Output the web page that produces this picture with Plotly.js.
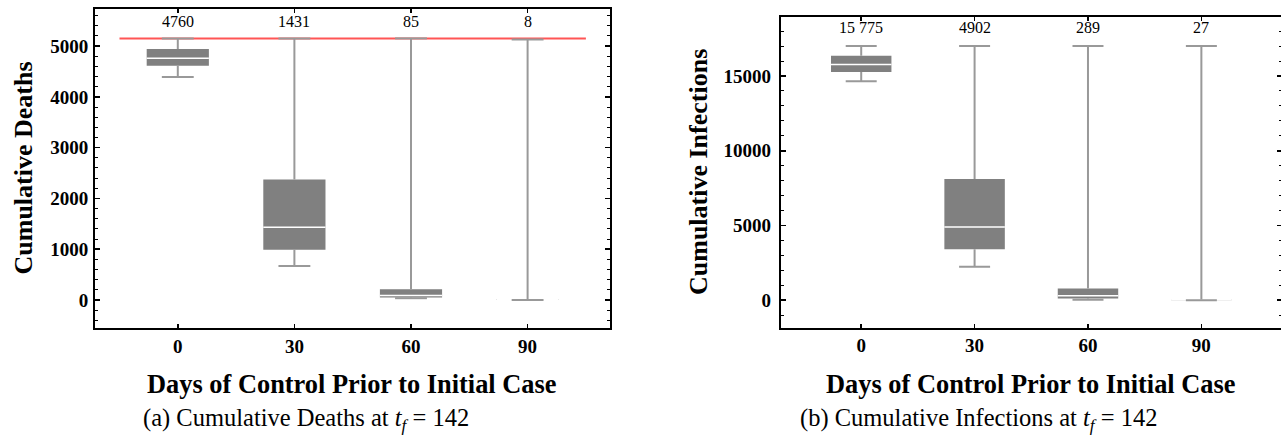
<!DOCTYPE html>
<html>
<head>
<meta charset="utf-8">
<script src="https://cdn.plot.ly/plotly-3.0.1.min.js"></script>
<style>
html,body{margin:0;padding:0;overflow:hidden;background:#fff;}
#chart{width:1284px;height:436px;}
</style>
</head>
<body>
<div id="chart"></div>
<script>
// ---------- data ----------
var days = [0, 30, 60, 90];
var dayLabels = ['0', '30', '60', '90'];

// (a) Cumulative deaths
var deathsLower  = [4393, 666, 34, 0];
var deathsQ1     = [4611, 988, 50, 0];
var deathsMedian = [4760, 1431, 85, 8];
var deathsQ3     = [4941, 2372, 211, 15];
var deathsUpper  = [5152, 5152, 5152, 5132];
var deathsMedianText = ['4760', '1431', '85', '8'];
var deathsRefX = [-15, 105];
var deathsRefY = [5152, 5152];

// (b) Cumulative infections
var infLower  = [14645, 2230, 30, 0];
var infQ1     = [15268, 3416, 120, 0];
var infMedian = [15775, 4902, 289, 27];
var infQ3     = [16359, 8103, 780, 50];
var infUpper  = [17009, 17009, 17009, 17009];
var infMedianText = ['15 775', '4902', '289', '27'];

var xTitle = 'Days of Control Prior to Initial Case';
var yTitleA = 'Cumulative Deaths';
var yTitleB = 'Cumulative Infections';
var captionA = '(a) Cumulative Deaths at <i>t</i><sub><i>f</i></sub> = 142';
var captionB = '(b) Cumulative Infections at <i>t</i><sub><i>f</i></sub> = 142';

// ---------- style ----------
var W = 1284, H = 436;
var SERIF = "'Liberation Serif', 'Times New Roman', serif";
var BOXW = 16, CAPHALF = 4.1;
var boxFill = '#808080', whisk = '#999999';

function px(x){ return x / W; }
function py(y){ return 1 - y / H; }

function boxTrace(xs, lo, q1, med, q3, hi, xa, ya){
  return {type:'box', x:xs, q1:q1, median:med, q3:q3, lowerfence:lo, upperfence:hi,
          xaxis:xa, yaxis:ya, width:BOXW, fillcolor:boxFill,
          line:{color:boxFill, width:0}, whiskerwidth:0, boxpoints:false,
          hoverinfo:'skip', showlegend:false};
}
function medianTrace(xs, med, xa, ya){
  var mx = [], my = [];
  for (var i = 0; i < xs.length; i++){
    mx.push(xs[i] - BOXW / 2, xs[i] + BOXW / 2, null);
    my.push(med[i], med[i], null);
  }
  return {type:'scatter', mode:'lines', x:mx, y:my, xaxis:xa, yaxis:ya,
          line:{color:'#ffffff', width:1.5}, hoverinfo:'skip', showlegend:false};
}
function whiskerTrace(xs, lo, q1, q3, hi, xa, ya){
  var wx = [], wy = [];
  for (var i = 0; i < xs.length; i++){
    wx.push(xs[i], xs[i], null, xs[i], xs[i], null);
    wy.push(q3[i], hi[i], null, lo[i], q1[i], null);
    wx.push(xs[i] - CAPHALF, xs[i] + CAPHALF, null, xs[i] - CAPHALF, xs[i] + CAPHALF, null);
    wy.push(lo[i], lo[i], null, hi[i], hi[i], null);
  }
  return {type:'scatter', mode:'lines', x:wx, y:wy, xaxis:xa, yaxis:ya,
          line:{color:whisk, width:2}, hoverinfo:'skip', showlegend:false};
}

var traces = [
  boxTrace(days, deathsLower, deathsQ1, deathsMedian, deathsQ3, deathsUpper, 'x', 'y'),
  boxTrace(days, infLower, infQ1, infMedian, infQ3, infUpper, 'x2', 'y2'),
  medianTrace(days, deathsMedian, 'x', 'y'),
  medianTrace(days, infMedian, 'x2', 'y2'),
  {type:'scatter', mode:'lines', x:deathsRefX, y:deathsRefY, xaxis:'x', yaxis:'y',
   line:{color:'#ff5555', width:2}, hoverinfo:'skip', showlegend:false},
  whiskerTrace(days, deathsLower, deathsQ1, deathsQ3, deathsUpper, 'x', 'y'),
  whiskerTrace(days, infLower, infQ1, infQ3, infUpper, 'x2', 'y2')
];

var tickFont = {family:SERIF, size:19, color:'#000', weight:700};

function xAxis(domain){
  return {domain:domain, range:[-21.3, 111.2], tickmode:'array', tickvals:days, ticktext:dayLabels,
          ticks:'inside', ticklen:4, tickwidth:1.5, tickcolor:'#000',
          showline:true, linewidth:2, linecolor:'#000', mirror:'allticks',
          showgrid:false, zeroline:false, tickfont:tickFont, ticklabelstandoff:0, fixedrange:true};
}
function yAxis(domain, range, dtick, minor, standoff){
  return {domain:domain, range:range, tickmode:'linear', tick0:0, dtick:dtick, tickformat:'d',
          ticks:'inside', ticklen:5, tickwidth:1.5, tickcolor:'#000',
          minor:{dtick:minor, tick0:0, ticks:'inside', ticklen:3, tickwidth:1, tickcolor:'#000', showgrid:false},
          showline:true, linewidth:2, linecolor:'#000', mirror:'allticks',
          showgrid:false, zeroline:false, tickfont:tickFont, ticklabelstandoff:standoff, fixedrange:true};
}

var annotations = [];
function ann(text, x, y, size, bold, angle){
  annotations.push({text:text, xref:'paper', yref:'paper', x:px(x), y:py(y),
    xanchor:'center', yanchor:'middle', showarrow:false, textangle:angle || 0,
    font:{family:SERIF, size:size, color:'#000', weight: bold ? 700 : 400}});
}
ann(yTitleA, 23, 168.5, 26, true, -90);
ann(yTitleB, 698, 172, 26, true, -90);
ann(xTitle, 351.7, 384, 26.4, true);
ann(xTitle, 1031.3, 384, 26.4, true);
ann(captionA, 305.8, 419, 24.5, false);
ann(captionB, 978.4, 419, 24.5, false);
for (var i = 0; i < days.length; i++){
  annotations.push({text:deathsMedianText[i], xref:'x', yref:'paper', x:days[i], y:py(21.7),
    xanchor:'center', yanchor:'middle', showarrow:false, font:{family:SERIF, size:16, color:'#000'}});
  annotations.push({text:infMedianText[i], xref:'x2', yref:'paper', x:days[i], y:py(27),
    xanchor:'center', yanchor:'middle', showarrow:false, font:{family:SERIF, size:16, color:'#000'}});
}

var layout = {
  width:W, height:H, margin:{l:0, r:0, t:0, b:0},
  paper_bgcolor:'#fff', plot_bgcolor:'#fff',
  boxmode:'overlay', showlegend:false,
  xaxis: Object.assign(xAxis([px(95), px(610)]), {anchor:'y'}),
  yaxis: Object.assign(yAxis([py(328), py(9)], [-553, 5731], 1000, 200, 1), {anchor:'x'}),
  xaxis2: Object.assign(xAxis([px(780.7), px(1281.5)]), {anchor:'y2'}),
  yaxis2: Object.assign(yAxis([py(327.5), py(17.3)], [-1828, 18931], 5000, 1000, 4), {anchor:'x2'}),
  annotations: annotations
};

Plotly.newPlot('chart', traces, layout, {staticPlot:true, displayModeBar:false});
</script>
</body>
</html>
